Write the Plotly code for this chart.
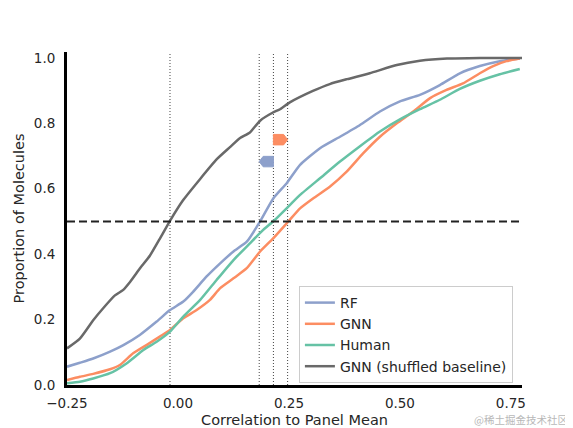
import plotly.graph_objects as go

# Cumulative curves (x = correlation, y = proportion)
rf_x = [-0.25, -0.221, -0.191, -0.153, -0.123, -0.086, -0.048, -0.018, 0.012, 0.034,
        0.064, 0.095, 0.125, 0.155, 0.185, 0.215, 0.245, 0.275, 0.320, 0.365,
        0.410, 0.455, 0.500, 0.545, 0.590, 0.635, 0.680, 0.725, 0.770]
rf_y = [0.056, 0.068, 0.081, 0.102, 0.122, 0.153, 0.194, 0.229, 0.255, 0.285,
        0.331, 0.372, 0.408, 0.438, 0.500, 0.571, 0.617, 0.673, 0.724, 0.759,
        0.795, 0.836, 0.867, 0.887, 0.917, 0.953, 0.975, 0.990, 0.998]

gnn_x = [-0.25, -0.221, -0.191, -0.153, -0.131, -0.101, -0.071, -0.041, -0.018, 0.012,
         0.042, 0.072, 0.095, 0.125, 0.155, 0.185, 0.215, 0.250, 0.275, 0.305,
         0.342, 0.380, 0.417, 0.455, 0.493, 0.530, 0.568, 0.605, 0.642, 0.680,
         0.710, 0.740, 0.770]
gnn_y = [0.015, 0.025, 0.034, 0.048, 0.061, 0.097, 0.122, 0.148, 0.168, 0.204,
         0.229, 0.260, 0.296, 0.326, 0.357, 0.408, 0.449, 0.502, 0.540, 0.571,
         0.606, 0.652, 0.708, 0.759, 0.800, 0.836, 0.877, 0.902, 0.922, 0.953,
         0.975, 0.990, 0.998]

human_x = [-0.25, -0.221, -0.191, -0.153, -0.116, -0.078, -0.048, -0.018, 0.012, 0.050,
           0.087, 0.125, 0.162, 0.192, 0.216, 0.252, 0.275, 0.320, 0.365, 0.410,
           0.455, 0.500, 0.545, 0.590, 0.635, 0.680, 0.725, 0.770]
human_y = [0.005, 0.010, 0.020, 0.036, 0.066, 0.107, 0.132, 0.163, 0.209, 0.260,
           0.321, 0.382, 0.433, 0.474, 0.502, 0.550, 0.581, 0.632, 0.683, 0.730,
           0.775, 0.812, 0.843, 0.872, 0.905, 0.930, 0.950, 0.966]

shuf_x = [-0.25, -0.221, -0.191, -0.169, -0.142, -0.124, -0.108, -0.086, -0.063, -0.041,
          -0.018, 0.011, 0.050, 0.088, 0.117, 0.140, 0.162, 0.185, 0.214, 0.230,
          0.252, 0.304, 0.342, 0.381, 0.432, 0.493, 0.545, 0.606, 0.680, 0.780]
shuf_y = [0.112, 0.142, 0.198, 0.234, 0.274, 0.290, 0.315, 0.356, 0.396, 0.447,
          0.502, 0.564, 0.630, 0.691, 0.727, 0.755, 0.772, 0.808, 0.833, 0.843,
          0.864, 0.899, 0.920, 0.935, 0.953, 0.978, 0.991, 0.998, 1.0, 1.0]

# medians (where each curve crosses 0.5)
median_shuf = -0.018
median_rf = 0.183
median_human = 0.215
median_gnn = 0.247

# arrow heights (shift of RF / GNN median relative to Human)
arrow_rf_y = 0.683
arrow_gnn_y = 0.750

series = [
    ("RF", rf_x, rf_y, "#8da0cb"),
    ("GNN", gnn_x, gnn_y, "#fc8d62"),
    ("Human", human_x, human_y, "#66c2a5"),
    ("GNN (shuffled baseline)", shuf_x, shuf_y, "#696969"),
]

X_RANGE = [-0.25, 0.775]
Y_RANGE = [0, 1.018]

fig = go.Figure()

for name, xs, ys, color in series:
    fig.add_trace(go.Scatter(x=xs, y=ys, mode="lines", name=name,
                             line=dict(color=color, width=2.5, shape="spline", smoothing=0.5)))

# dotted median markers
for m in [median_shuf, median_rf, median_human, median_gnn]:
    fig.add_shape(type="line", x0=m, x1=m, y0=0, y1=1, yref="paper",
                  line=dict(color="#444444", width=1, dash="1px,2px"), layer="below")

# dashed 50% line
fig.add_shape(type="line", x0=X_RANGE[0], x1=X_RANGE[1], y0=0.5, y1=0.5,
              line=dict(color="#222222", width=2, dash="8px,4px"))


def arrow_path(x_start, x_end, y, half_h=0.016, head=0.009):
    """Block arrow from x_start pointing to x_end."""
    sign = 1 if x_end > x_start else -1
    xb = x_end - sign * head
    pts = [(x_start, y - half_h), (xb, y - half_h), (x_end, y),
           (xb, y + half_h), (x_start, y + half_h)]
    return "M " + " L ".join(f"{px},{py}" for px, py in pts) + " Z"


fig.add_shape(type="path", path=arrow_path(median_human, median_rf, arrow_rf_y),
              fillcolor="#8da0cb", line=dict(color="#8da0cb", width=1))
fig.add_shape(type="path", path=arrow_path(median_human, median_gnn, arrow_gnn_y),
              fillcolor="#fc8d62", line=dict(color="#fc8d62", width=1))

fig.add_annotation(text="@稀土掘金技术社区", x=1.105, y=-0.103, xref="paper", yref="paper",
                   xanchor="right", yanchor="middle", showarrow=False,
                   font=dict(size=10.5, color="#b8b8b8", family="Noto Sans CJK SC"))

# page body adds ~8px offset, margins compensate for it
fig.update_layout(
    width=573, height=428,
    margin=dict(l=59, r=59, t=44, b=51),
    paper_bgcolor="white", plot_bgcolor="white",
    font=dict(family="DejaVu Sans", color="#262626", size=13.5),
    legend=dict(x=0.98, y=0.006, xanchor="right", yanchor="bottom",
                bgcolor="rgba(255,255,255,0.85)", bordercolor="#cccccc", borderwidth=1,
                font=dict(size=14), itemwidth=30, tracegroupgap=0),
)

fig.update_xaxes(range=X_RANGE, showgrid=False, zeroline=False, automargin=False,
                 showline=True, linecolor="black", linewidth=3,
                 tickvals=[-0.25, 0, 0.25, 0.5, 0.75],
                 ticktext=["\u22120.25", "0.00", "0.25", "0.50", "0.75"],
                 ticks="", ticklabelstandoff=4,
                 title=dict(text="Correlation to Panel Mean", font=dict(size=14.5), standoff=5))
fig.update_yaxes(range=Y_RANGE, showgrid=False, zeroline=False, automargin=False,
                 showline=True, linecolor="black", linewidth=3,
                 tickvals=[0, 0.2, 0.4, 0.6, 0.8, 1.0],
                 ticktext=["0.0", "0.2", "0.4", "0.6", "0.8", "1.0"],
                 ticks="", ticklabelstandoff=6,
                 title=dict(text="Proportion of Molecules", font=dict(size=14.5), standoff=6))

fig.write_html("out.html")
